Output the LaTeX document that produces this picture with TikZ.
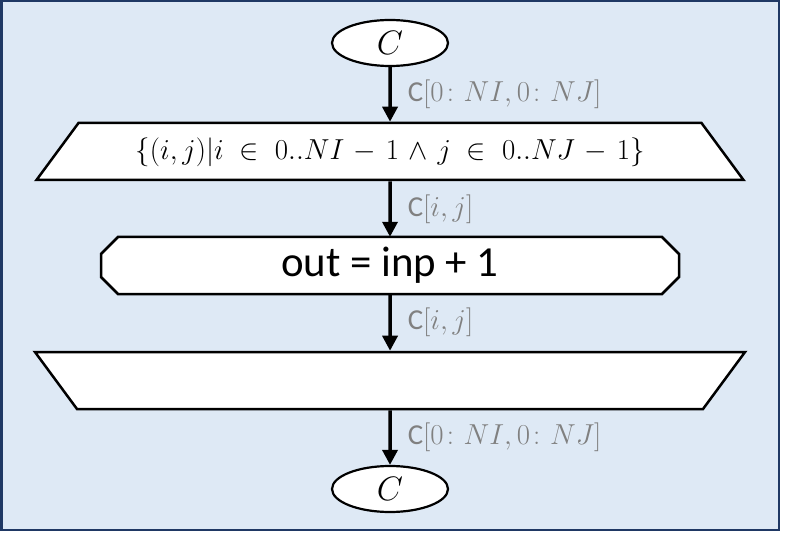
\RequirePackage{fix-cm}
\documentclass[tikz,border=0pt]{standalone}
\usepackage{amsmath, amssymb}
\usepackage{fontspec}
\setmainfont{Carlito}
\usepackage{tikz}
\usetikzlibrary{shapes.geometric, arrows.meta}
\definecolor{framenavy}{RGB}{31, 56, 100}
\definecolor{paleblue}{RGB}{222, 233, 245}
\definecolor{labelgray}{RGB}{128, 128, 128}

\begin{document}
\begin{tikzpicture}[x=1bp, y=-1bp,
    terminal/.style={ellipse, draw, fill=white, line width=2.2bp, minimum width=116bp, minimum height=46bp, inner sep=0pt, font=\fontsize{34}{38}\selectfont},
    mapbox/.style={trapezium, draw, fill=white, line width=2.5bp, inner sep=0pt, align=center, font=\fontsize{29}{33}\selectfont},
    opbox/.style={rectangle, minimum width=578bp, minimum height=57bp, inner sep=0pt, font=\fontsize{43}{48}\selectfont},
    flow/.style={line width=3.5bp, -{Triangle[width=15bp, length=15bp]}},
    flowlabel/.style={right, xshift=16bp, text=labelgray, inner sep=0pt, font=\fontsize{29}{33}\selectfont}]
    \useasboundingbox (0,0) rectangle (789,537);

    % Draw background panel
    \draw[framenavy, fill=paleblue, line width=2bp] (1.5,1.5) rectangle (779,530);

    % Draw the boxes
    \node[terminal] (SrcC) at (390,43) {$C$};
    \node[mapbox, trapezium angle=53.6, text width=623bp, text height=37bp, text depth=20bp] (IterMap) at (390,151.5)
        {$\{(i,j)|i\in 0..NI-1\wedge j\in 0..NJ-1\}$};
    % Draw the octagonal operation box (corners cut by 17)
    \draw[line width=2.5bp, fill=white] (118,237) -- (662,237) -- (679,254) -- (679,277)
        -- (662,294) -- (118,294) -- (101,277) -- (101,254) -- cycle;
    \node[opbox] (Kernel) at (390,265.5) {out = inp + 1};
    \node[mapbox, trapezium left angle=126.4, trapezium right angle=126.4, text width=626bp, text height=28.5bp, text depth=28.5bp] (CollectMap) at (390,380.5) {};
    \node[terminal] (DstC) at (390,489) {$C$};

    % Draw data flow connections
    \draw[flow] (SrcC) -- (IterMap) node[flowlabel, midway] {C$[0\colon NI,0\colon NJ]$};
    \draw[flow] (IterMap) -- (Kernel) node[flowlabel, midway] {C$[i,j]$};
    \draw[flow] (Kernel) -- (CollectMap) node[flowlabel, midway] {C$[i,j]$};
    \draw[flow] (CollectMap) -- (DstC) node[flowlabel, midway] {C$[0\colon NI,0\colon NJ]$};
\end{tikzpicture}
\end{document}
